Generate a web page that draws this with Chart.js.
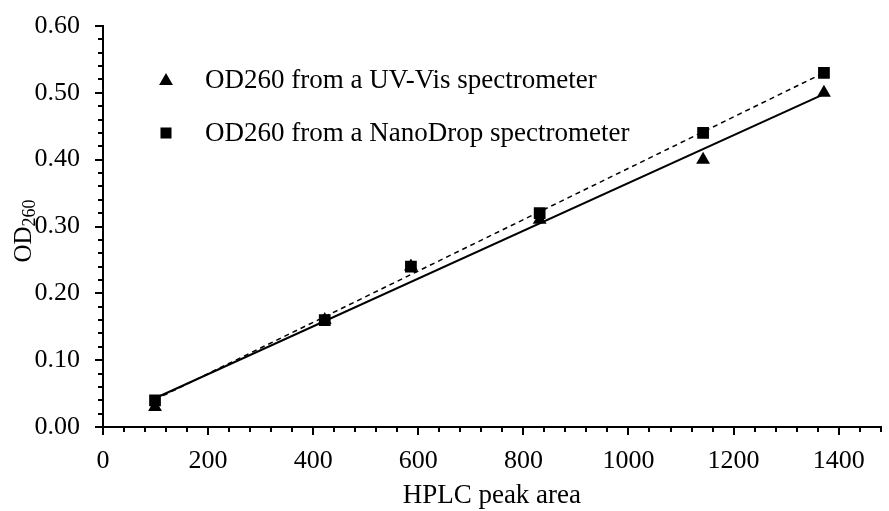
<!DOCTYPE html>
<html>
<head>
<meta charset="utf-8">
<script src="https://cdn.jsdelivr.net/npm/chart.js@4.4.0/dist/chart.umd.min.js"></script>
<style>
  html, body { margin: 0; padding: 0; background: #fff; }
  #wrap { width: 889px; height: 511px; }
</style>
</head>
<body>
<div id="wrap"><canvas id="chart" width="889" height="511"></canvas></div>
<script>
// values
const uvArea = [99, 422, 586, 831, 1142, 1372];
const uvOD = [0.03, 0.16, 0.24, 0.31, 0.40, 0.50];
const nanoArea = [99, 422, 586, 831, 1142, 1372];
const nanoOD = [0.04, 0.16, 0.24, 0.32, 0.44, 0.53];

// trend line end points
const trendArea = [99, 1372];
const uvTrendOD = [0.043, 0.498];
const nanoTrendOD = [0.041, 0.530];

const labels = ["OD260 from a UV-Vis spectrometer", "OD260 from a NanoDrop spectrometer"];
const xTitle = "HPLC peak area";
const xTickValues = [0, 200, 400, 600, 800, 1000, 1200, 1400];

const xMax = 1480;
const xStep = 200;
const xMinorStep = 40;
const yMax = 0.6;
const yStep = 0.1;
const yMinorStep = 0.02;

const serif = "'Liberation Serif', 'Times New Roman', serif";

const toPoints = (xs, ys) => xs.map((x, i) => ({ x: x, y: ys[i] }));

// minor ticks, legend and the y title with subscript
const extras = {
	id: "extras",
	afterDraw(chart) {
		const ctx = chart.ctx;
		const xs = chart.scales.x;
		const ys = chart.scales.y;
		const area = chart.chartArea;
		ctx.save();
		ctx.strokeStyle = "#000";
		ctx.lineWidth = 2;
		ctx.beginPath();
		for (let i = 0; i * xMinorStep <= xMax; i++) {
			const v = i * xMinorStep;
			if (v % xStep === 0) continue;
			const px = Math.round(xs.getPixelForValue(v));
			ctx.moveTo(px, area.bottom);
			ctx.lineTo(px, area.bottom + 5);
		}
		const nY = Math.round(yMax / yMinorStep);
		for (let i = 0; i <= nY; i++) {
			if (i % 5 === 0) continue;
			const py = Math.round(ys.getPixelForValue(i * yMinorStep));
			ctx.moveTo(area.left, py);
			ctx.lineTo(area.left - 5, py);
		}
		ctx.stroke();

		// legend
		ctx.fillStyle = "#000";
		ctx.font = "27px " + serif;
		ctx.textBaseline = "middle";
		ctx.textAlign = "left";
		Chart.helpers.drawPoint(ctx, { pointStyle: "triangle", radius: 8, borderWidth: 0 }, 166, 81);
		ctx.fillText(labels[0], 205, 81);
		Chart.helpers.drawPoint(ctx, { pointStyle: "rect", radius: 7.8, borderWidth: 0 }, 166, 133);
		ctx.fillText(labels[1], 205, 134);

		// y title OD with subscript 260
		ctx.translate(31, 231);
		ctx.rotate(-Math.PI / 2);
		ctx.textBaseline = "alphabetic";
		ctx.font = "25px " + serif;
		const w1 = ctx.measureText("OD").width;
		ctx.font = "18px " + serif;
		const w2 = ctx.measureText("260").width;
		ctx.font = "25px " + serif;
		ctx.fillText("OD", -(w1 + w2) / 2, 0);
		ctx.font = "18px " + serif;
		ctx.fillText("260", -(w1 + w2) / 2 + w1, 4);
		ctx.restore();
	}
};

new Chart(document.getElementById("chart"), {
	type: "scatter",
	data: {
		datasets: [
			{
				label: labels[0],
				data: toPoints(uvArea, uvOD),
				pointStyle: "triangle",
				pointRadius: 8,
				pointBackgroundColor: "#000",
				pointBorderWidth: 0,
				showLine: false,
				order: 1
			},
			{
				label: labels[1],
				data: toPoints(nanoArea, nanoOD),
				pointStyle: "rect",
				pointRadius: 8.3,
				pointBackgroundColor: "#000",
				pointBorderWidth: 0,
				showLine: false,
				order: 0
			},
			{
				data: toPoints(trendArea, uvTrendOD),
				showLine: true,
				borderColor: "#000",
				borderWidth: 2,
				pointRadius: 0,
				order: 2
			},
			{
				data: toPoints(trendArea, nanoTrendOD),
				showLine: true,
				borderColor: "#000",
				borderWidth: 1.5,
				borderDash: [5, 4],
				pointRadius: 0,
				order: 3
			}
		]
	},
	options: {
		responsive: false,
		animation: false,
		events: [],
		layout: { padding: { top: 26, right: 2, left: 0, bottom: 0 } },
		plugins: {
			legend: { display: false },
			tooltip: { enabled: false }
		},
		scales: {
			x: {
				type: "linear",
				min: 0,
				max: xMax,
				afterFit: (s) => { s.height = 84; s.paddingLeft = 0; s.paddingRight = 0; },
				afterBuildTicks: (s) => { s.ticks = xTickValues.map((v) => ({ value: v })); },
				border: { display: true, color: "#000", width: 2 },
				grid: { display: true, drawOnChartArea: false, drawTicks: true, tickLength: 8, color: "#000", lineWidth: 2 },
				ticks: {
					color: "#000",
					padding: 11,
					maxRotation: 0,
					autoSkip: false,
					font: { family: serif, size: 26 },
					callback: (v) => String(v)
				},
				title: {
					display: true,
					text: xTitle,
					color: "#000",
					font: { family: serif, size: 27 },
					padding: { top: 0, bottom: -1 }
				}
			},
			y: {
				type: "linear",
				min: 0,
				max: yMax,
				afterFit: (s) => { s.width = 103; s.paddingTop = 0; s.paddingBottom = 0; },
				border: { display: true, color: "#000", width: 2 },
				grid: { display: true, drawOnChartArea: false, drawTicks: true, tickLength: 8, color: "#000", lineWidth: 2 },
				ticks: {
					stepSize: yStep,
					color: "#000",
					padding: 15,
					font: { family: serif, size: 26 },
					callback: (v) => v.toFixed(2)
				}
			}
		}
	},
	plugins: [extras]
});
</script>
</body>
</html>
